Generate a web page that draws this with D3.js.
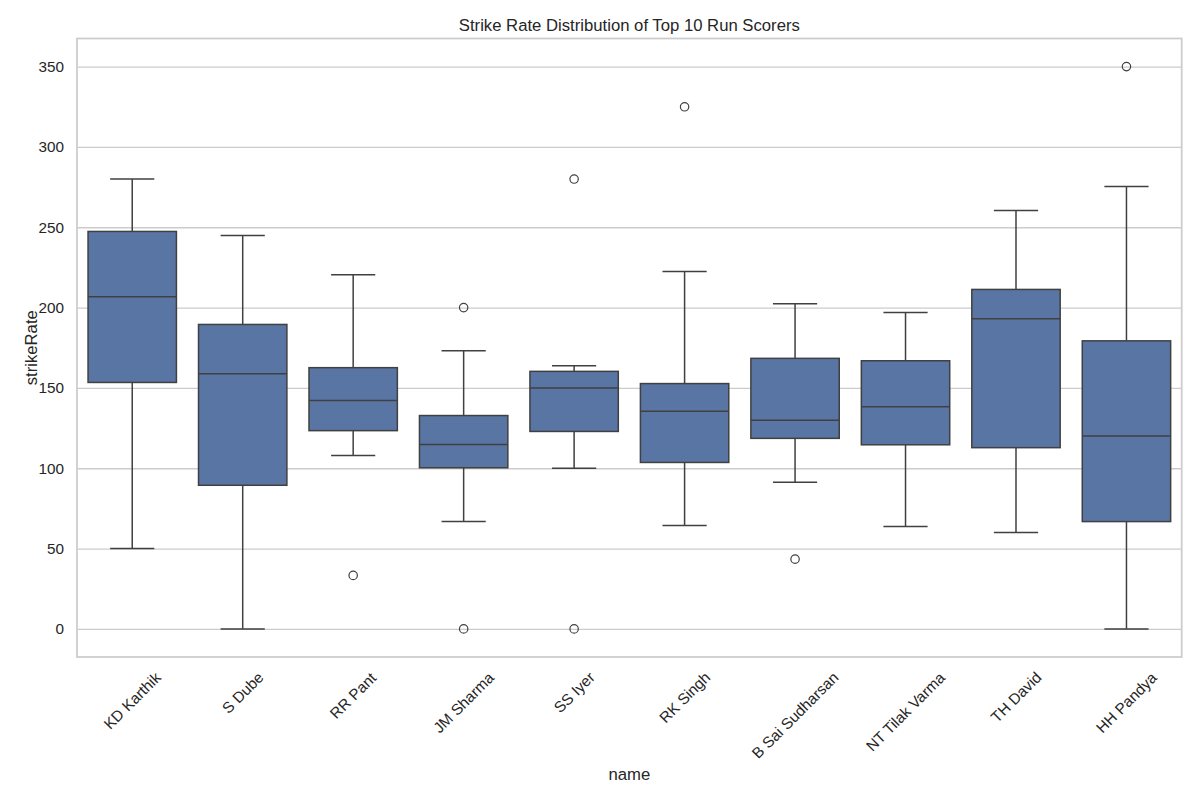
<!DOCTYPE html>
<html><head><meta charset="utf-8">
<script src="https://cdn.jsdelivr.net/npm/d3@7/dist/d3.min.js"></script>
<style>
body{margin:0;background:#fff;}
svg text{font-family:"Liberation Sans",Arial,Helvetica,sans-serif;fill:#262626;}
</style>
</head><body>
<svg id="chart" width="1200" height="800"></svg>
<script>
// ---- data ----
const names = ["KD Karthik","S Dube","RR Pant","JM Sharma","SS Iyer","RK Singh","B Sai Sudharsan","NT Tilak Varma","TH David","HH Pandya"];
const q1Values = [153.4, 89.4, 123.4, 100.3, 122.9, 103.6, 118.6, 114.6, 112.8, 66.8];
const medianValues = [206.8, 158.8, 142.2, 114.8, 150.0, 135.4, 129.8, 138.2, 193.0, 120.1];
const q3Values = [247.4, 189.5, 162.6, 132.8, 160.3, 152.7, 168.4, 166.9, 211.3, 179.3];
const whiskerLow = [50, 0, 108, 66.8, 100, 64.3, 91.2, 63.8, 60, 0];
const whiskerHigh = [280, 244.9, 220.5, 173.2, 163.8, 222.5, 202.4, 196.9, 260.4, 275.3];
const outlierValues = [[], [], [33.3], [200, 0], [280, 0], [325], [43.4], [], [], [350]];
const yTickValues = [0, 50, 100, 150, 200, 250, 300, 350];
const titleText = "Strike Rate Distribution of Top 10 Run Scorers";
const xLabelText = "name";
const yLabelText = "strikeRate";

(function () {
// ---- layout ----
const mLeft = 77, mRight = 1181.7, mTop = 38.5, mBottom = 657;
const boxFill = "#5975a4", lineColor = "#404040", gridColor = "#cccccc";

const svg = d3.select("#chart");
const x = d3.scaleBand().domain(names).range([mLeft, mRight]).paddingInner(0).paddingOuter(0);
const y = d3.scaleLinear().domain([-17.5, 367.5]).range([mBottom, mTop]);

// grid + y ticks
const yAxis = d3.axisLeft(y).tickValues(yTickValues).tickSize(-(mRight - mLeft)).tickPadding(13).tickFormat(d3.format("d"));
const gy = svg.append("g").attr("transform", `translate(${mLeft},0)`).call(yAxis);
gy.select(".domain").remove();
gy.selectAll(".tick line").attr("stroke", gridColor).attr("stroke-width", 1.3);
gy.selectAll(".tick text").attr("font-size", "15.3px").attr("fill", "#262626")
  .attr("font-family", '"Liberation Sans",Arial,sans-serif');

// boxes
const data = names.map((n, i) => ({
  name: n, q1: q1Values[i], med: medianValues[i], q3: q3Values[i],
  lo: whiskerLow[i], hi: whiskerHigh[i], out: outlierValues[i]
}));
const bw = x.bandwidth() * 0.8;
const cw = bw / 2;
const g = svg.append("g");
data.forEach(d => {
  const cx = x(d.name) + x.bandwidth() / 2;
  const bg = g.append("g");
  bg.append("rect")
    .attr("x", cx - bw / 2).attr("width", bw)
    .attr("y", y(d.q3)).attr("height", y(d.q1) - y(d.q3))
    .attr("fill", boxFill).attr("stroke", lineColor).attr("stroke-width", 1.5);
  bg.append("line").attr("x1", cx).attr("x2", cx).attr("y1", y(d.q3)).attr("y2", y(d.hi))
    .attr("stroke", lineColor).attr("stroke-width", 1.5);
  bg.append("line").attr("x1", cx).attr("x2", cx).attr("y1", y(d.q1)).attr("y2", y(d.lo))
    .attr("stroke", lineColor).attr("stroke-width", 1.5);
  [d.hi, d.lo].forEach(v => {
    bg.append("line").attr("x1", cx - cw / 2).attr("x2", cx + cw / 2).attr("y1", y(v)).attr("y2", y(v))
      .attr("stroke", lineColor).attr("stroke-width", 1.5);
  });
  bg.append("line").attr("x1", cx - bw / 2).attr("x2", cx + bw / 2).attr("y1", y(d.med)).attr("y2", y(d.med))
    .attr("stroke", lineColor).attr("stroke-width", 1.5);
  bg.selectAll("circle.o").data(d.out).enter().append("circle")
    .attr("cx", cx).attr("cy", v => y(v)).attr("r", 4.2)
    .attr("fill", "none").attr("stroke", lineColor).attr("stroke-width", 1.2);
});

// frame
svg.append("rect").attr("x", mLeft).attr("y", mTop).attr("width", mRight - mLeft).attr("height", mBottom - mTop)
  .attr("fill", "none").attr("stroke", gridColor).attr("stroke-width", 1.75);

// x tick labels, rotated 45deg, bbox centred under tick
const labelTop = 668.5;
const xl = svg.append("g");
names.forEach(n => {
  const cx = x(n) + x.bandwidth() / 2;
  const gg = xl.append("g").attr("transform", `translate(${cx},${labelTop})`);
  const t = gg.append("text").attr("text-anchor", "end").attr("font-size", "15.3px")
    .attr("transform", "rotate(-45)").text(n);
  const r = t.node().getBoundingClientRect();
  const dx = cx - (r.left + r.right) / 2;
  const dy = labelTop - r.top;
  gg.attr("transform", `translate(${cx + dx},${labelTop + dy})`);
});

// axis labels and title
svg.append("text").attr("x", (mLeft + mRight) / 2).attr("y", 779.5).attr("text-anchor", "middle")
  .attr("font-size", "16.7px").text(xLabelText);
svg.append("text").attr("transform", `translate(36.5,${(mTop + mBottom) / 2}) rotate(-90)`)
  .attr("text-anchor", "middle").attr("font-size", "16.7px").text(yLabelText);
svg.append("text").attr("x", (mLeft + mRight) / 2).attr("y", 31).attr("text-anchor", "middle")
  .attr("font-size", "16.7px").text(titleText);
})();
</script>
</body></html>
